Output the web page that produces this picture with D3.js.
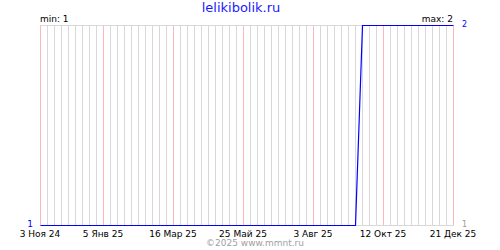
<!DOCTYPE html>
<html>
<head>
<meta charset="utf-8">
<script src="https://cdn.jsdelivr.net/npm/d3@7"></script>
<style>
  body { margin: 0; background: #fff; }
  svg { display: block; font-family: "DejaVu Sans", sans-serif; }
</style>
</head>
<body>
<svg id="chart" width="500" height="250"></svg>
<script>
// data
var pointDates = ["2024-11-03", "2025-09-14", "2025-09-21", "2025-12-21"],
    pointValues = [1, 1, 2, 2];
var tickDates = ["2024-11-03", "2025-01-05", "2025-03-16", "2025-05-25", "2025-08-03", "2025-10-12", "2025-12-21"],
    tickLabels = ["3 Ноя 24", "5 Янв 25", "16 Мар 25", "25 Май 25", "3 Авг 25", "12 Окт 25", "21 Дек 25"];
var title = "lelikibolik.ru",
    footer = "©2025 www.mmnt.ru";

var parse = d3.utcParse("%Y-%m-%d");
var margin = {top: 25, right: 47, bottom: 25, left: 40},
    width = 500 - margin.left - margin.right,
    height = 250 - margin.top - margin.bottom;

var data = pointDates.map(function(d, i) { return {date: parse(d), value: pointValues[i]}; });
var start = parse(tickDates[0]), end = parse(tickDates[tickDates.length - 1]);

var x = d3.scaleUtc().domain([start, end]).range([0, width]),
    y = d3.scaleLinear().domain(d3.extent(pointValues)).range([height, 0]);

var svg = d3.select("#chart");

svg.append("text")
    .attr("x", 241)
    .attr("y", 12)
    .attr("text-anchor", "middle")
    .style("font-size", "13px")
    .style("fill", "#1a1aff")
    .text(title);

var g = svg.append("g")
    .attr("transform", "translate(" + margin.left + "," + margin.top + ")");

// weekly grid
var weeks = d3.utcWeek.range(start, d3.utcDay.offset(end, 1));
g.selectAll(".week")
    .data(weeks)
  .enter().append("line")
    .attr("class", "week")
    .attr("x1", function(d) { return Math.round(x(d)) + 0.5; })
    .attr("x2", function(d) { return Math.round(x(d)) + 0.5; })
    .attr("y1", 0)
    .attr("y2", height)
    .style("stroke", "#d8d8d8");

// tick lines
var ticks = tickDates.map(parse);
g.selectAll(".tickline")
    .data(ticks)
  .enter().append("line")
    .attr("class", "tickline")
    .attr("x1", function(d) { return Math.round(x(d)) + 0.5; })
    .attr("x2", function(d) { return Math.round(x(d)) + 0.5; })
    .attr("y1", 0)
    .attr("y2", height)
    .style("stroke", "#ffb8b8");

// horizontal borders
g.selectAll(".hline")
    .data([0, height])
  .enter().append("line")
    .attr("x1", 0)
    .attr("x2", width + 1)
    .attr("y1", function(d) { return d + 0.5; })
    .attr("y2", function(d) { return d + 0.5; })
    .style("stroke", "#d8d8d8");

// series
var line = d3.line()
    .x(function(d) { return Math.round(x(d.date)) + 0.5; })
    .y(function(d) { return y(d.value) + 0.5; });

g.append("path")
    .datum(data)
    .attr("d", line)
    .style("fill", "none")
    .style("stroke", "#0000ff")
    .style("stroke-width", 1.2);

// tick labels
g.selectAll(".label")
    .data(ticks)
  .enter().append("text")
    .attr("x", function(d) { return x(d); })
    .attr("y", height + 12)
    .attr("text-anchor", "middle")
    .style("font-size", "9px")
    .style("fill", "#000")
    .text(function(d, i) { return tickLabels[i]; });

var minV = d3.min(pointValues), maxV = d3.max(pointValues);

g.append("text")
    .attr("x", 0)
    .attr("y", -3)
    .style("font-size", "9px")
    .text("min: " + minV);

g.append("text")
    .attr("x", width)
    .attr("y", -3)
    .attr("text-anchor", "end")
    .style("font-size", "9px")
    .text("max: " + maxV);

g.append("text")
    .attr("x", width + 9)
    .attr("y", y(maxV) + 2)
    .style("font-size", "8px")
    .style("fill", "#0000ff")
    .text(maxV);

g.append("text")
    .attr("x", -7)
    .attr("y", y(minV) + 2)
    .attr("text-anchor", "end")
    .style("font-size", "9px")
    .style("fill", "#0000ff")
    .text(minV);

g.append("text")
    .attr("x", width + 9)
    .attr("y", y(minV) + 2)
    .style("font-size", "8px")
    .style("fill", "#999")
    .text(minV);

svg.append("text")
    .attr("x", 255)
    .attr("y", 246)
    .attr("text-anchor", "middle")
    .style("font-size", "9px")
    .style("fill", "#a0a0a0")
    .text(footer);
</script>
</body>
</html>
